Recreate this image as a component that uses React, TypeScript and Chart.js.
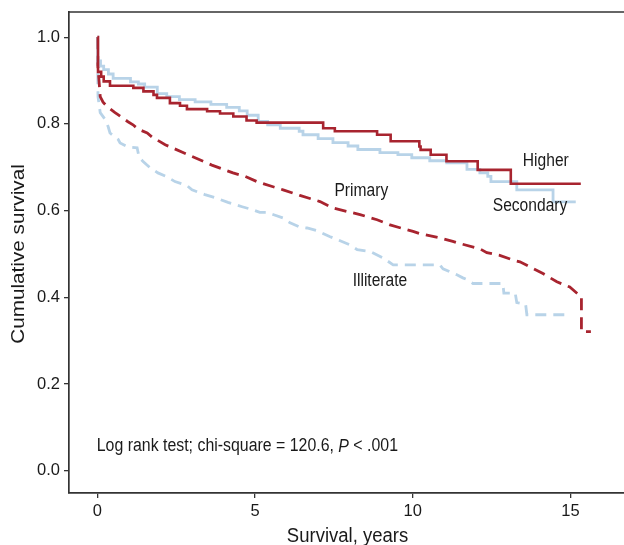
import React, { useEffect, useRef } from "react";
import { Chart, registerables } from "chart.js";
Chart.register(...registerables);

// ---------- data ----------
const higherTimes = [0, 0.02, 0.12, 0.2, 0.4, 1.14, 1.46, 1.78, 1.89, 2.3, 2.62, 2.84, 3.48, 3.89, 4.31, 4.73, 5.05, 7.16, 7.53, 8.87, 9.3, 10.21, 10.25, 10.57, 11.07, 12.06, 13.11, 15.33];
const higherSurv = [1.0, 0.92, 0.909, 0.898, 0.888, 0.883, 0.875, 0.867, 0.86, 0.848, 0.842, 0.834, 0.829, 0.824, 0.817, 0.808, 0.803, 0.79, 0.783, 0.775, 0.76, 0.748, 0.74, 0.729, 0.714, 0.694, 0.662, 0.662];

const secondaryTimes = [0, 0.01, 0.1, 0.2, 0.35, 0.5, 1.05, 1.3, 1.5, 1.9, 2.2, 2.6, 3.1, 3.6, 4.1, 4.5, 4.75, 5.1, 5.4, 5.8, 6.4, 6.52, 7.0, 7.47, 7.95, 8.26, 8.96, 9.53, 9.97, 10.54, 11.08, 11.72, 12.13, 12.38, 12.48, 13.3, 14.45, 15.17];
const secondarySurv = [1.0, 0.945, 0.933, 0.925, 0.915, 0.905, 0.897, 0.892, 0.885, 0.87, 0.863, 0.856, 0.851, 0.845, 0.838, 0.83, 0.82, 0.806, 0.798, 0.79, 0.783, 0.775, 0.766, 0.757, 0.749, 0.741, 0.734, 0.729, 0.722, 0.715, 0.71, 0.695, 0.687, 0.679, 0.667, 0.648, 0.62, 0.62];

const primaryTimes = [0, 0.02, 0.09, 0.18, 0.31, 0.56, 0.97, 1.13, 1.29, 1.58, 1.73, 2.15, 2.75, 3.63, 4.3, 4.68, 5.06, 5.57, 5.89, 6.42, 7.06, 7.47, 8.33, 8.87, 9.28, 10.01, 10.23, 10.86, 11.27, 11.4, 12.13, 12.35, 12.76, 13.18, 13.4, 14.13, 14.57, 14.98, 15.2, 15.33, 15.35, 15.35, 15.65];
const primarySurv = [1.0, 0.93, 0.863, 0.85, 0.84, 0.826, 0.805, 0.798, 0.788, 0.779, 0.77, 0.752, 0.733, 0.705, 0.687, 0.679, 0.667, 0.655, 0.648, 0.635, 0.621, 0.606, 0.591, 0.579, 0.567, 0.552, 0.547, 0.537, 0.529, 0.526, 0.512, 0.503, 0.497, 0.486, 0.482, 0.455, 0.436, 0.424, 0.41, 0.402, 0.402, 0.321, 0.321];

const illiterateTimes = [0, 0.02, 0.09, 0.25, 0.34, 0.4, 0.66, 0.72, 0.97, 1.26, 1.32, 1.45, 1.67, 1.92, 2.21, 2.46, 2.84, 3.0, 3.41, 3.73, 4.14, 4.59, 4.93, 5.15, 5.38, 5.57, 5.89, 6.11, 6.42, 6.65, 6.96, 7.38, 8.01, 8.24, 8.64, 9.06, 9.38, 10.86, 10.96, 11.18, 11.4, 11.59, 11.72, 11.91, 12.86, 12.89, 13.25, 13.3, 13.58, 13.62, 15.0];
const illiterateSurv = [1.0, 0.863, 0.826, 0.81, 0.794, 0.779, 0.764, 0.756, 0.747, 0.745, 0.724, 0.713, 0.699, 0.687, 0.678, 0.667, 0.658, 0.648, 0.637, 0.63, 0.619, 0.609, 0.602, 0.596, 0.596, 0.591, 0.583, 0.572, 0.562, 0.56, 0.554, 0.54, 0.521, 0.51, 0.506, 0.491, 0.475, 0.475, 0.466, 0.459, 0.452, 0.445, 0.441, 0.432, 0.432, 0.41, 0.41, 0.388, 0.384, 0.36, 0.36];

const xTickValues = [0, 5, 10, 15];
const yTickValues = [0, 0.2, 0.4, 0.6, 0.8, 1.0];

const groupLabels = ["Higher", "Secondary", "Primary", "Illiterate"];
const groupLabelX = [14.22, 13.72, 8.37, 8.96];
const groupLabelY = [0.713, 0.611, 0.644, 0.437];

const statPrefix = "Log rank test; chi-square = 120.6, ";
const statItalic = "P";
const statSuffix = " < .001";
const statX = -0.02;
const statY = 0.056;

const xTitle = "Survival, years";
const yTitle = "Cumulative survival";

// ---------- styles ----------
const FONT = '"Liberation Sans", Arial, Helvetica, sans-serif';
const RED = "#a8242f";
const BLUE = "#b8d3e8";
const AXIS = "#333333";
const TEXT = "#1a1a1a";
const TEXT_STRETCH = 1.12;

const toPts = (t: number[], s: number[]) => t.map((v, i) => ({ x: v, y: s[i] }));

function stretchedText(ctx: any, text: string, x: number, y: number, rotate = 0) {
  ctx.save();
  ctx.translate(x, y);
  ctx.scale(1, TEXT_STRETCH);
  if (rotate) ctx.rotate(rotate);
  ctx.fillText(text, 0, 0);
  ctx.restore();
}

const annotPlugin = {
  id: "annot",
  afterDraw(chart: any) {
    const { ctx, chartArea, scales } = chart;
    const xs = scales.x;
    const ys = scales.y;
    ctx.save();
    // top frame line
    ctx.strokeStyle = AXIS;
    ctx.lineWidth = 1.7;
    ctx.beginPath();
    ctx.moveTo(chartArea.left - 0.85, chartArea.top);
    ctx.lineTo(chartArea.right, chartArea.top);
    ctx.stroke();

    ctx.fillStyle = TEXT;
    ctx.textBaseline = "middle";
    ctx.textAlign = "center";

    // axis titles
    ctx.font = `18.5px ${FONT}`;
    stretchedText(ctx, xTitle, (chartArea.left + chartArea.right) / 2 + 1, chart.height - 9);
    stretchedText(ctx, yTitle, 18.5, (chartArea.top + chartArea.bottom) / 2 + 1.5, -Math.PI / 2);

    // group labels
    ctx.font = `15.6px ${FONT}`;
    groupLabels.forEach((lab, i) => {
      stretchedText(ctx, lab, xs.getPixelForValue(groupLabelX[i]), ys.getPixelForValue(groupLabelY[i]));
    });

    // statistics line
    ctx.textAlign = "left";
    let px = xs.getPixelForValue(statX);
    const py = ys.getPixelForValue(statY);
    ctx.font = `15.9px ${FONT}`;
    stretchedText(ctx, statPrefix, px, py);
    px += ctx.measureText(statPrefix).width;
    ctx.font = `italic 15.9px ${FONT}`;
    stretchedText(ctx, statItalic, px, py);
    px += ctx.measureText(statItalic).width;
    ctx.font = `15.9px ${FONT}`;
    stretchedText(ctx, statSuffix, px, py);
    ctx.restore();
  },
};

export default function App() {
  const ref = useRef<HTMLCanvasElement>(null);
  useEffect(() => {
    document.body.style.margin = "0";
    const chart = new Chart(ref.current!, {
      type: "line",
      data: {
        datasets: [
          {
            label: "Higher",
            data: toPts(higherTimes, higherSurv),
            borderColor: RED,
            borderWidth: 2.6,
            stepped: "before",
            pointRadius: 0,
            fill: false,
          },
          {
            label: "Secondary",
            data: toPts(secondaryTimes, secondarySurv),
            borderColor: BLUE,
            borderWidth: 2.8,
            stepped: "before",
            pointRadius: 0,
            fill: false,
          },
          {
            label: "Primary",
            data: toPts(primaryTimes, primarySurv),
            borderColor: RED,
            borderWidth: 2.8,
            borderDash: [12, 7],
            tension: 0,
            pointRadius: 0,
            fill: false,
          },
          {
            label: "Illiterate",
            data: toPts(illiterateTimes, illiterateSurv),
            borderColor: BLUE,
            borderWidth: 2.8,
            borderDash: [11, 7],
            tension: 0,
            pointRadius: 0,
            fill: false,
          },
        ],
      },
      options: {
        responsive: false,
        animation: false,
        devicePixelRatio: 1,
        layout: { padding: { top: 12, left: 0, right: 0, bottom: 0 } },
        plugins: { legend: { display: false }, tooltip: { enabled: false } },
        scales: {
          x: {
            type: "linear",
            min: -0.9,
            max: 16.7,
            afterBuildTicks: (s: any) => {
              s.ticks = xTickValues.map((v) => ({ value: v }));
            },
            afterFit: (s: any) => {
              s.height = 52;
              s.paddingLeft = 0;
              s.paddingRight = 0;
            },
            ticks: {
              font: { size: 16.5, family: FONT },
              color: TEXT,
              padding: 3.5,
              maxRotation: 0,
              autoSkip: false,
              callback: (v: any) => String(v),
            },
            grid: { display: true, drawOnChartArea: false, drawTicks: true, tickLength: 5, color: AXIS, lineWidth: 1.3 },
            border: { display: true, color: AXIS, width: 1.7 },
            title: { display: false },
          },
          y: {
            type: "linear",
            min: -0.051,
            max: 1.058,
            afterBuildTicks: (s: any) => {
              s.ticks = yTickValues.map((v) => ({ value: v }));
            },
            afterFit: (s: any) => {
              s.width = 69;
              s.paddingTop = 0;
              s.paddingBottom = 0;
            },
            ticks: {
              font: { size: 16.5, family: FONT },
              color: TEXT,
              padding: 4,
              autoSkip: false,
              callback: (v: any) => Number(v).toFixed(1),
            },
            grid: { display: true, drawOnChartArea: false, drawTicks: true, tickLength: 5, color: AXIS, lineWidth: 1.3 },
            border: { display: true, color: AXIS, width: 1.7 },
            title: { display: false },
          },
        },
      },
      plugins: [annotPlugin],
    } as any);
    return () => chart.destroy();
  }, []);
  return (
    <canvas
      ref={ref}
      width={624}
      height={545}
      style={{ display: "block", width: "624px", height: "545px" }}
    />
  );
}
